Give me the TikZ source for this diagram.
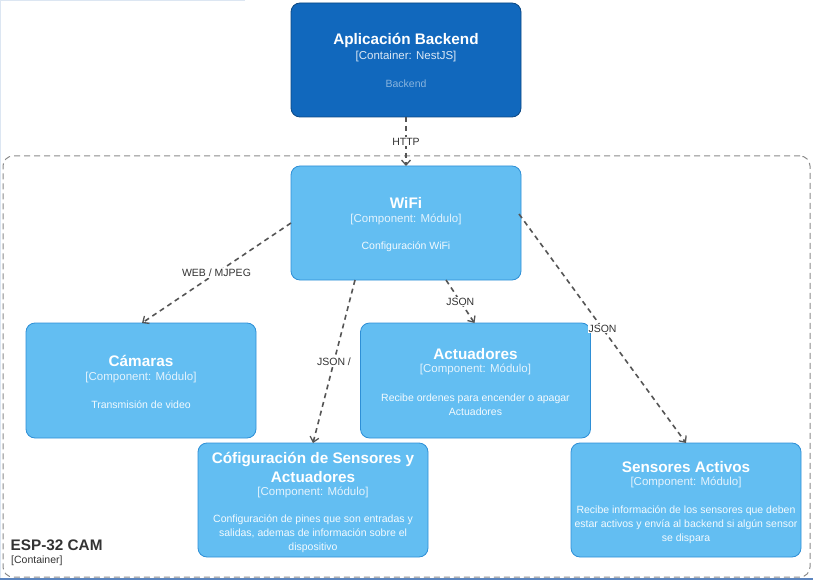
\documentclass[tikz,border=0pt]{standalone}
\usepackage{fontspec}
\setmainfont{Liberation Sans}
\usetikzlibrary{arrows.meta}
\definecolor{sysblue}{HTML}{1168BD}
\definecolor{sysstroke}{HTML}{0B4884}
\definecolor{compfill}{HTML}{63BEF2}
\definecolor{compstroke}{HTML}{2E8FD6}
\definecolor{edgegray}{HTML}{555555}
\definecolor{bndgray}{HTML}{8A8A8A}
\definecolor{txtdark}{HTML}{333333}
\definecolor{artlight}{HTML}{DCE6F2}
\definecolor{artblue}{HTML}{5C85BF}
\begin{document}
\begin{tikzpicture}[x=1pt,y=-1pt,
  sysbox/.style={draw=sysstroke, fill=sysblue, rounded corners=9pt, line width=0.8pt,
    minimum width=230pt, minimum height=114pt, inner sep=0pt, outer sep=0pt},
  compbox/.style={draw=compstroke, fill=compfill, rounded corners=9pt, line width=0.8pt,
    minimum width=230pt, minimum height=114pt, inner sep=0pt, outer sep=0pt},
  bndbox/.style={draw=bndgray, dash pattern=on 6pt off 4pt, line width=1pt, rounded corners=10pt,
    minimum width=807pt, minimum height=421pt, inner sep=0pt, outer sep=0pt},
  ttl/.style={text=white, font=\fontsize{15.3}{19}\selectfont\bfseries, align=center, inner sep=0pt},
  subt/.style={font=\fontsize{11.5}{14}\selectfont, inner sep=0pt},
  desc/.style={font=\fontsize{10.5}{14}\selectfont, align=center, inner sep=0pt},
  csub/.style={subt, text=white!82!compfill},
  cdesc/.style={desc, text=white!92!compfill},
  rel/.style={draw=edgegray, line width=1.6pt, dash pattern=on 5pt off 4pt,
    -{Straight Barb[length=5pt,width=9pt,line width=1.3pt]}},
  lbl/.style={fill=white, text=txtdark, font=\fontsize{10.5}{12}\selectfont, inner sep=1pt},
]
\useasboundingbox (0,0) rectangle (813,580);
% screenshot edges
\fill[artlight] (0,0) rectangle (245,1.5);
\fill[artlight] (0,0) rectangle (1.2,580);
\fill[artblue] (0,577.6) rectangle (813,580);

% boundary
\node[bndbox] (bnd) at (406.5,366.5) {};
\node[anchor=west, text=txtdark, font=\fontsize{15.3}{18}\selectfont\bfseries, inner sep=0pt] (bndt) at (10.5,545.5) {ESP-32 CAM};
\node[anchor=west, text=txtdark, font=\fontsize{10.5}{12}\selectfont, inner sep=0pt] (bnds) at (11,560.5) {[Container]};

% boxes
\node[sysbox] (backend) at (406,60) {};
\node[compbox] (wifi) at (406,223) {};
\node[compbox, minimum height=115pt] (cam) at (141,380.5) {};
\node[compbox, minimum height=115pt] (act) at (475.5,380.5) {};
\node[compbox] (conf) at (313,500) {};
\node[compbox] (sens) at (686,500) {};

% texts
\begin{scope}[yshift=-1.5pt]
\node[ttl] (backendT) at (406,39) {Aplicación Backend};
\node[subt, text=white!85!sysblue] (backendS) at (406,55) {[Container: NestJS]};
\node[desc, text=white!50!sysblue] (backendD) at (406,82) {Backend};

\node[ttl] (wifiT) at (406,201) {WiFi};
\node[csub] (wifiS) at (406,218) {[Component: Módulo]};
\node[cdesc] (wifiD) at (406,245) {Configuración WiFi};

\node[ttl] (camT) at (141,359) {Cámaras};
\node[csub] (camS) at (141,376) {[Component: Módulo]};
\node[cdesc] (camD) at (141,403) {Transmisión de video};

\node[ttl] (actT) at (475.5,353) {Actuadores};
\node[csub] (actS) at (475.5,368) {[Component: Módulo]};
\node[cdesc] (actD) at (475.5,403) {Recibe ordenes para encender o apagar\\Actuadores};

\node[ttl] (confT) at (313,465.5) {Cófiguración de Sensores y\\Actuadores};
\node[csub] (confS) at (313,491) {[Component: Módulo]};
\node[cdesc] (confD) at (313,532) {Configuración de pines que son entradas y\\salidas, ademas de información sobre el\\dispositivo};

\node[ttl] (sensT) at (686,466) {Sensores Activos};
\node[csub] (sensS) at (686,481) {[Component: Módulo]};
\node[cdesc] (sensD) at (686,523) {Recibe información de los sensores que deben\\estar activos y envía al backend si algún sensor\\se dispara};
\end{scope}

% relations
\draw[rel] (backend.south) -- node[lbl] (l1) {HTTP} (wifi.north);
\draw[rel] (wifi.west) -- node[lbl] (l2) {WEB / MJPEG} ([xshift=1pt]cam.north);
\draw[rel] ([xshift=-51pt]wifi.south) -- node[lbl] (l3) {JSON /} (conf.north);
\draw[rel] ([xshift=40pt]wifi.south) -- node[lbl] (l4) {JSON} ([xshift=-1pt]act.north);
\draw[rel] ([xshift=-2pt,yshift=9pt]wifi.east) -- node[lbl] (l5) {JSON} (sens.north);
\end{tikzpicture}
\end{document}
